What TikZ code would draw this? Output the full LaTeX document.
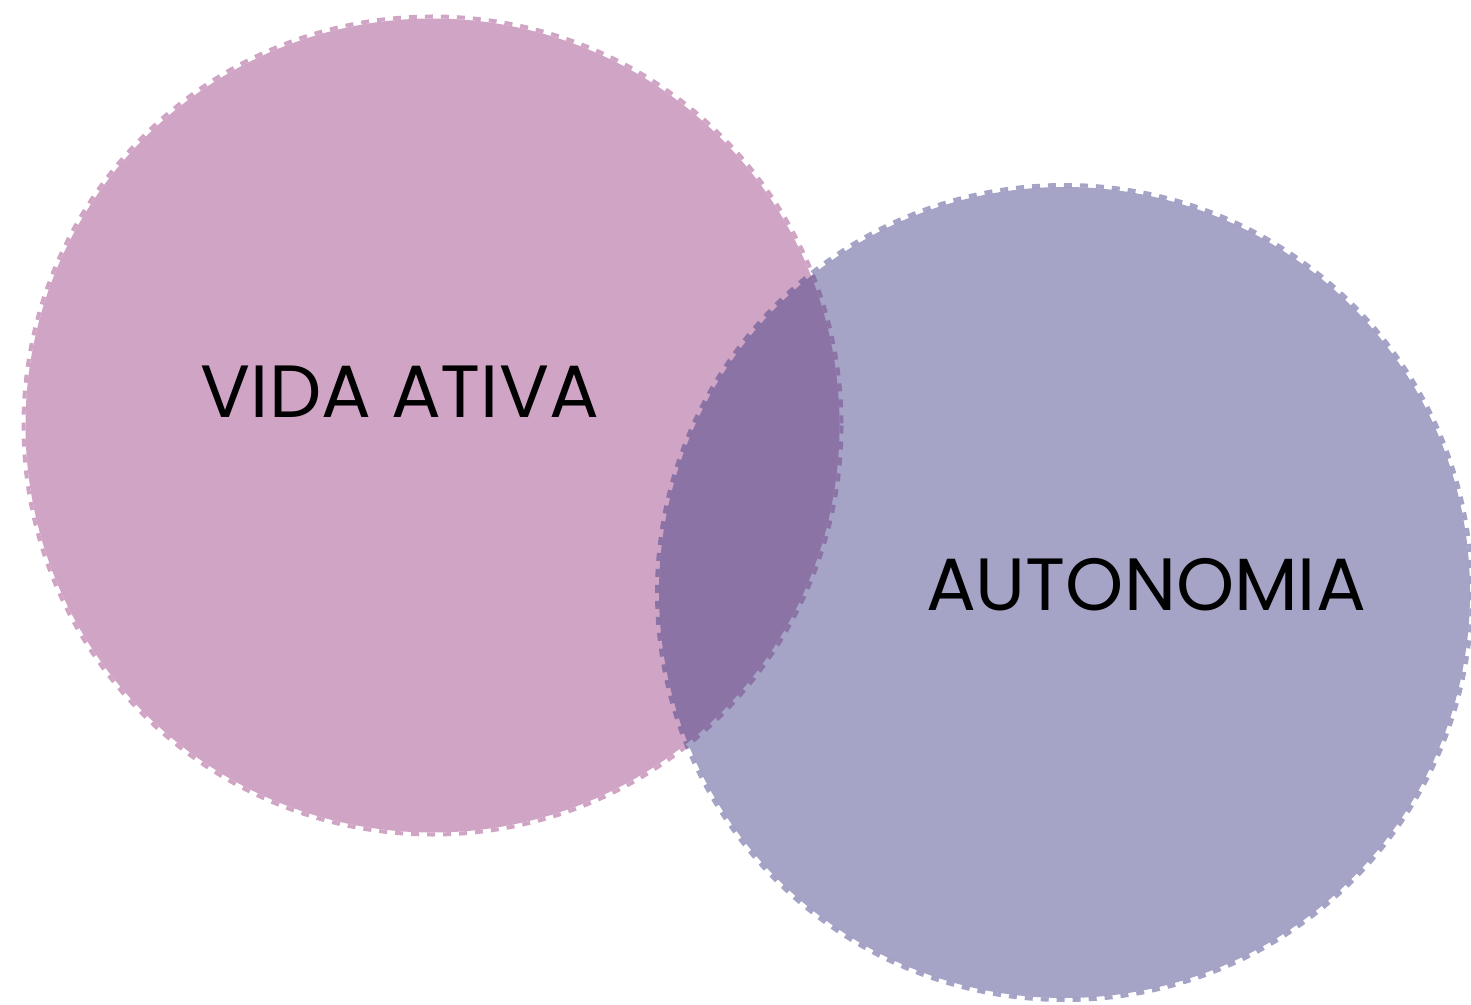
\documentclass[tikz,border=0pt]{standalone}
\usepackage{fontspec}
\setmainfont{Poppins}
\definecolor{rose}{RGB}{208,164,196}
\definecolor{lav}{RGB}{63,61,134}
\tikzset{
  disc/.style={line width=0pt},
  rim/.style={line width=2pt, dash pattern=on 4pt off 4pt},
  label/.style={font=\fontsize{37}{41}\selectfont, text=black, inner sep=0pt, anchor=base}
}
\begin{document}
\begin{tikzpicture}[x=0.5pt,y=-0.5pt]
  \useasboundingbox (0,0) rectangle (1471,1005);
  % left set
  \coordinate (cl) at (432.5,425.5);
  \fill[rose] (cl) circle[radius=407];
  \draw[rose, rim] (cl) circle[radius=409];
  % right set, translucent over the left one
  \coordinate (cr) at (1064.5,592.5);
  \begin{scope}[opacity=0.47]
    \fill[lav] (cr) circle[radius=405.5];
    \draw[lav, rim] (cr) circle[radius=407.5];
  \end{scope}
  \node[label] (va) at (400,417) {VIDA ATIVA};
  \node[label] (au) at (1146,610) {AUTONOMIA};
\end{tikzpicture}
\end{document}
